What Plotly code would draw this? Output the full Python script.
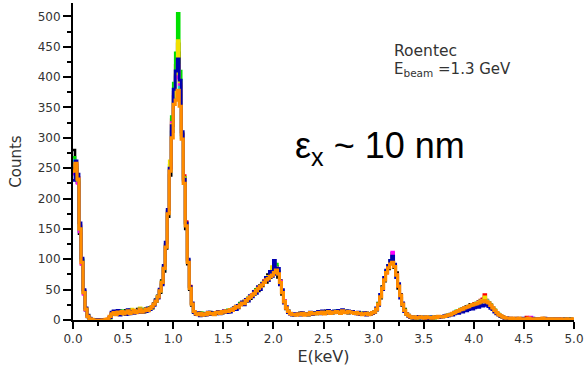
import plotly.graph_objects as go

# channel width (keV) of the spectra
E_STEP = 0.02

black = [280,248,226,142,98,48,16,5,2,1,
 0,0,0,1,0,0,1,0,5,9,
 13,12,10,15,11,13,16,10,12,15,
 13,12,18,14,16,13,19,15,18,20,
 27,30,40,45,65,80,118,170,238,310,
 368,402,440,370,305,228,150,92,50,24,
 13,11,9,12,10,8,11,9,13,10,
 12,10,13,12,11,14,16,13,15,17,
 18,23,20,27,26,31,30,36,35,42,
 42,50,48,57,56,64,62,75,70,78,
 80,88,70,65,42,32,18,15,10,9,
 8,10,9,12,9,11,10,8,11,12,
 10,12,11,13,11,12,15,12,13,11,
 13,12,14,13,12,14,15,11,13,12,
 12,11,11,10,10,9,12,10,9,11,
 14,16,28,36,55,64,80,84,96,100,
 86,78,52,42,24,18,9,8,4,3,
 5,3,4,5,4,3,5,4,3,5,
 4,6,5,5,6,6,8,8,10,10,
 13,13,16,16,19,19,22,22,26,24,
 27,26,30,29,33,31,29,26,22,19,
 15,11,9,6,4,3,3,2,2,3,
 2,2,1,3,1,2,2,1,2,2,
 1,2,2,1,2,1,2,2,1,1,
 2,1,1,2,1,2,1,1,2,1,1]

red = [250,255,235,155,92,47,17,6,3,1,
 0,0,0,0,1,0,0,0,4,10,
 12,14,10,13,12,11,13,14,12,15,
 14,13,15,16,14,17,16,18,19,22,
 26,32,37,50,60,86,122,178,248,330,
 375,420,455,385,306,238,162,96,56,26,
 14,10,10,10,11,10,10,11,11,10,
 11,11,12,13,12,15,14,16,15,17,
 19,21,22,26,27,29,32,35,37,41,
 43,49,52,54,58,65,66,72,74,77,
 82,86,78,60,46,31,19,14,10,10,
 9,10,10,9,10,9,10,10,11,10,
 11,11,12,11,12,12,12,13,12,12,
 12,13,13,12,14,13,12,14,13,13,
 11,12,10,11,10,10,11,9,10,11,
 13,17,26,39,51,66,77,88,95,102,
 89,75,55,41,25,16,10,7,5,4,
 4,4,4,4,4,4,4,4,4,4,
 4,5,5,5,6,6,7,8,9,11,
 12,14,15,17,18,20,21,23,24,26,
 27,28,30,33,35,42,33,29,25,20,
 16,12,9,7,5,4,3,3,2,2,
 2,3,2,2,2,2,5,2,2,2,
 2,2,1,2,2,2,1,2,1,2,
 1,1,2,1,1,2,1,1,1,1,1]

green = [268,252,228,148,100,44,19,7,2,1,
 0,1,0,0,0,0,0,1,3,11,
 14,13,11,12,15,10,14,13,17,12,
 15,14,16,17,13,18,15,17,21,19,
 25,34,39,47,63,88,125,180,255,335,
 390,440,505,410,300,235,158,98,54,27,
 13,10,11,9,12,9,10,12,10,11,
 11,12,12,14,13,14,15,17,16,18,
 21,22,23,28,28,30,34,36,39,40,
 45,50,53,56,61,64,69,70,76,80,
 85,92,80,62,48,30,21,13,11,9,
 10,9,10,10,11,9,11,10,12,11,
 11,12,13,11,12,11,13,13,12,14,
 13,15,12,12,14,14,12,13,14,13,
 12,11,11,12,10,11,10,10,11,11,
 13,19,27,40,54,68,80,90,98,110,
 90,72,58,40,27,17,10,7,5,4,
 4,5,3,5,5,4,4,5,4,5,
 3,6,4,6,6,6,7,9,9,11,
 12,15,14,18,17,21,20,23,24,26,
 25,28,29,31,30,34,31,29,25,21,
 17,12,10,7,5,4,3,3,2,3,
 2,2,3,2,1,2,2,3,2,1,
 2,2,1,2,2,1,2,1,2,2,
 1,2,1,1,2,1,1,2,1,1,1]

cyan = [262,250,230,152,98,46,18,7,2,1,
 0,0,0,0,0,0,0,0,3,9,
 11,13,12,14,11,13,12,14,13,15,
 13,15,14,16,15,17,16,18,18,21,
 25,31,38,49,61,84,121,176,246,315,
 362,400,412,380,300,230,156,96,52,26,
 13,10,10,9,11,9,11,10,11,10,
 12,12,12,13,13,14,15,15,16,17,
 19,21,22,25,27,29,31,34,37,40,
 43,47,51,55,59,63,67,72,76,82,
 90,84,76,62,46,30,20,14,11,9,
 9,9,10,9,10,9,10,10,11,10,
 11,10,12,11,12,11,12,13,12,13,
 12,13,13,12,13,13,12,13,12,12,
 11,11,10,11,10,10,11,10,10,11,
 13,18,25,38,52,66,78,86,94,98,
 90,74,57,40,26,16,10,7,5,4,
 4,4,3,4,4,4,3,4,4,4,
 4,5,4,5,5,6,6,8,9,10,
 12,13,15,16,18,19,21,22,24,25,
 26,28,29,31,32,34,32,28,24,20,
 16,12,9,7,5,4,3,3,2,2,
 2,2,2,2,1,2,2,2,2,1,
 2,1,2,1,2,2,1,2,1,2,
 1,2,1,1,2,1,1,1,1,1,1]

magenta = [240,245,225,145,92,42,16,6,2,1,
 0,0,0,0,0,0,0,1,4,12,
 14,12,13,11,14,12,11,15,12,14,
 12,14,13,15,14,16,15,17,18,20,
 26,33,37,48,62,85,124,178,250,325,
 372,398,420,388,303,230,158,97,54,27,
 14,11,10,10,10,10,10,11,10,11,
 11,12,12,12,13,14,14,16,16,17,
 20,21,23,26,27,30,32,35,38,42,
 44,48,52,56,60,64,68,71,75,79,
 84,86,78,64,47,32,21,14,11,9,
 10,9,10,10,10,9,10,10,11,10,
 11,11,12,11,12,11,12,13,12,13,
 13,13,14,12,13,13,12,13,13,12,
 11,11,10,11,10,10,10,10,10,11,
 13,18,26,39,53,67,79,88,96,112,
 90,75,57,40,26,16,10,7,5,4,
 4,4,4,4,4,4,4,4,4,4,
 4,5,5,5,6,6,7,8,9,11,
 12,14,15,17,18,20,21,22,24,25,
 26,27,29,30,31,33,30,28,24,20,
 16,12,9,7,5,4,3,3,2,2,
 2,2,2,2,2,2,2,2,5,2,
 2,2,1,2,2,1,2,1,2,1,
 1,2,1,2,1,1,1,1,1,1,1]

yellow = [255,250,230,150,96,45,18,6,2,1,
 0,0,0,0,0,0,0,0,3,10,
 12,13,12,13,12,13,13,14,13,18,
 14,14,15,20,15,16,16,17,18,21,
 25,32,38,48,61,86,122,178,262,322,
 368,405,460,392,308,234,158,97,54,27,
 13,10,10,10,10,10,10,11,10,11,
 11,12,12,13,13,14,15,15,16,17,
 19,21,23,25,28,30,31,35,38,41,
 44,48,52,56,59,63,67,72,75,88,
 92,84,77,61,46,31,20,14,11,9,
 9,9,10,9,10,9,10,10,11,10,
 11,11,12,11,12,11,12,13,12,13,
 12,13,13,12,13,13,12,13,13,12,
 11,11,10,11,10,10,10,10,10,11,
 13,18,25,39,52,66,78,87,96,100,
 89,74,56,40,26,16,10,7,5,4,
 4,4,4,4,4,4,4,4,4,4,
 4,5,5,5,6,6,7,8,9,11,
 12,13,15,16,18,19,21,22,24,25,
 26,28,29,31,32,38,31,28,24,20,
 16,12,9,7,5,4,3,3,2,2,
 2,2,2,2,2,2,2,2,2,2,
 2,2,1,2,2,1,2,1,2,1,
 1,1,1,1,1,1,1,1,1,1,1]

navy = [230,262,240,160,102,50,20,8,3,1,
 0,0,1,0,0,0,0,1,4,13,
 15,11,16,8,14,12,9,17,10,14,
 11,15,13,18,12,16,14,20,17,21,
 24,33,36,51,58,90,128,182,250,320,
 380,410,430,395,310,232,160,100,55,28,
 12,9,12,7,11,10,8,13,9,12,
 10,11,14,10,13,15,12,16,13,18,
 20,17,24,26,30,25,34,31,40,38,
 47,44,55,50,60,63,70,65,80,72,
 98,75,85,58,50,28,22,12,10,8,
 10,9,11,8,12,10,9,11,13,9,
 12,11,14,10,15,13,11,16,12,14,
 15,13,16,12,17,14,13,15,12,14,
 12,10,13,9,11,12,8,11,10,11,
 12,20,24,42,50,70,82,90,98,105,
 92,70,60,36,28,14,11,6,4,5,
 3,4,6,3,4,5,2,4,5,3,
 4,5,4,6,5,7,6,7,9,8,
 10,12,11,14,13,16,15,17,19,18,
 20,22,21,24,23,25,24,22,19,17,
 13,10,8,6,5,3,4,2,3,2,
 2,3,2,1,3,2,1,2,2,3,
 2,1,2,1,2,3,1,2,1,2,
 2,1,2,1,1,2,1,2,1,1,1]

orange = [245,258,232,150,95,45,18,6,2,1,
 0,0,0,0,0,0,1,2,6,10,
 12,9,13,11,14,10,12,15,11,13,
 16,12,14,17,13,15,18,16,19,22,
 26,31,38,48,62,85,120,175,245,300,
 355,362,378,352,298,225,155,95,52,26,
 14,10,9,11,8,10,9,12,10,11,
 9,12,13,11,14,13,15,14,17,16,
 19,22,21,25,28,27,32,35,38,41,
 44,48,52,55,58,62,66,68,72,74,
 78,82,76,62,45,30,20,14,11,9,
 9,8,10,9,11,8,10,9,12,10,
 11,10,12,11,13,10,12,14,11,13,
 12,14,13,11,15,13,12,14,13,12,
 11,12,10,11,9,10,11,9,10,12,
 13,18,26,38,52,66,78,86,92,95,
 88,74,56,40,26,16,10,7,5,4,
 5,3,4,5,4,3,5,4,4,3,
 5,4,6,5,5,6,7,8,9,11,
 12,14,15,17,18,20,21,22,24,25,
 26,27,28,30,31,32,30,28,24,20,
 16,12,9,7,5,4,3,3,2,3,
 2,2,3,2,1,2,2,3,2,1,
 2,2,1,2,3,2,1,2,2,1,
 2,1,2,2,1,1,2,1,1,2,1]

series = [
    ("black", black, "#000000", 2.6),
    ("red", red, "#ff0000", 2.6),
    ("green", green, "#00e000", 2.6),
    ("cyan", cyan, "#00e0e0", 2.6),
    ("magenta", magenta, "#ff00ff", 2.6),
    ("yellow", yellow, "#f0e000", 2.6),
    ("navy", navy, "#0000b0", 2.8),
    ("orange", orange, "#ff8c00", 3.2),
]

X_TICKS = [0.0, 0.5, 1.0, 1.5, 2.0, 2.5, 3.0, 3.5, 4.0, 4.5, 5.0]
Y_TICKS = [0, 50, 100, 150, 200, 250, 300, 350, 400, 450, 500]

fig = go.Figure()
for name, vals, col, w in series:
    fig.add_trace(go.Scatter(
        x=[i * E_STEP for i in range(len(vals))], y=vals, mode="lines",
        line=dict(color=col, width=w, shape="hv"), name=name, showlegend=False))

WIDE = "DejaVu Sans, Verdana, sans-serif"
axis_font = dict(family=WIDE, size=12, color="#333333")
fig.update_layout(
    width=587, height=370,
    margin=dict(l=73, r=13, t=3, b=50),
    paper_bgcolor="white", plot_bgcolor="white",
    font=dict(family=WIDE, color="#222222"),
    xaxis=dict(range=[0, 5], tickvals=X_TICKS, ticktext=[f"{v:.1f}" for v in X_TICKS],
               showgrid=False, zeroline=False, showline=True, linecolor="black", linewidth=2,
               ticks="outside", ticklen=7, tickwidth=1.5, tickcolor="black", tickfont=axis_font,
               minor=dict(dtick=0.25, ticks="outside", ticklen=4, tickwidth=1.5, tickcolor="black"),
               title=dict(text="E(keV)", font=dict(family=WIDE, size=16, color="#333333"), standoff=5)),
    yaxis=dict(range=[0, 522], tickvals=Y_TICKS,
               showgrid=False, zeroline=False, showline=True, linecolor="black", linewidth=2,
               ticks="outside", ticklen=8, tickwidth=1.5, tickcolor="black", tickfont=axis_font,
               minor=dict(dtick=25, ticks="outside", ticklen=4, tickwidth=1.5, tickcolor="black"),
               title=dict(text="Counts", font=dict(family=WIDE, size=15, color="#333333"), standoff=12)),
    annotations=[
        dict(text="Roentec", xref="paper", yref="paper", x=(392-73)/501, y=(320-51)/317,
             xanchor="left", yanchor="middle", showarrow=False,
             font=dict(family=WIDE, size=15.5, color="#333333")),
        dict(text="E<sub>beam</sub> =1.3 GeV", xref="paper", yref="paper", x=(392-73)/501, y=(320-69)/317,
             xanchor="left", yanchor="middle", showarrow=False,
             font=dict(family=WIDE, size=15, color="#333333")),
        dict(text="ε<sub>x</sub> ~ 10 nm", xref="paper", yref="paper", x=(293-73)/501, y=(320-148)/317,
             xanchor="left", yanchor="middle", showarrow=False,
             font=dict(family="Liberation Sans, Arial, sans-serif", size=36, color="black")),
    ],
)

fig.write_html("out.html", config={"displayModeBar": False},
               post_script="document.body.style.margin='0';")
